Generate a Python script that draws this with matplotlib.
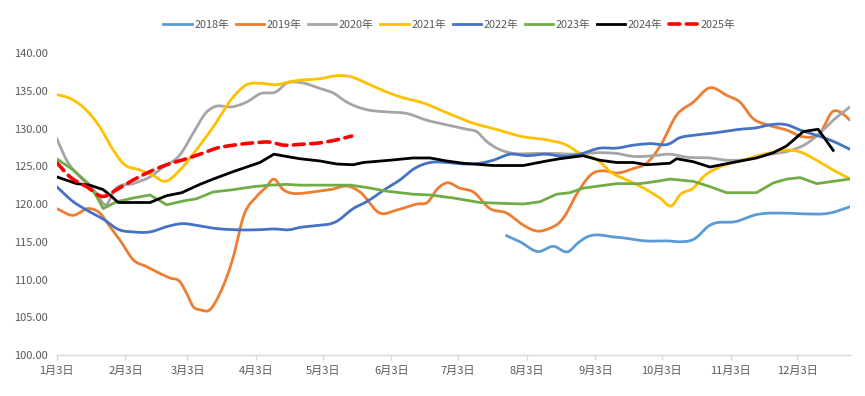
import numpy as np
import matplotlib
matplotlib.use("Agg")
import matplotlib.pyplot as plt

plt.rcParams['font.family'] = ['Noto Sans CJK SC', 'DejaVu Sans']

# x values are days counted from Jan 3
tick_days = [0, 31, 59, 90, 120, 151, 181, 212, 243, 273, 304, 334]
tick_labels = ['1月3日', '2月3日', '3月3日', '4月3日', '5月3日', '6月3日',
               '7月3日', '8月3日', '9月3日', '10月3日', '11月3日', '12月3日']

d2018 = [203, 209, 217.2, 224, 230.8, 235, 238.3, 252.6, 266.1, 276.6, 281.1, 287.2,
         294.7, 306.7, 315.7, 327.8, 336.8, 348.8, 357.5]
v2018 = [115.8, 115.0, 113.7, 114.4, 113.7, 114.8, 115.5, 115.6, 115.1, 115.1, 115.0, 115.3,
         117.2, 117.7, 118.6, 118.8, 118.7, 118.8, 119.6]

d2019 = [0, 7.5, 14.3, 19.5, 24, 28.6, 34.6, 40.6, 46.6, 51.1, 55.6, 58.6, 61.6, 64.6, 69.1,
         73.7, 79.7, 84.2, 90.2, 94.7, 97.7, 102.2, 106.7, 109.7, 115.7, 123.3, 132.3, 136.8,
         145.8, 153.4, 162.4, 167.6, 171.4, 175.9, 181.9, 187.9, 195.4, 203, 210.5, 217.2,
         222.5, 227, 230, 233, 236, 242, 246.5, 252.6, 260.1, 266.1, 272.1, 279.7, 287.2,
         294.7, 302.2, 308.2, 314.2, 320.3, 329.3, 336.8, 344.3, 350.3, 353.3, 357.5]
v2019 = [119.4, 118.5, 119.4, 118.8, 117.0, 115.2, 112.6, 111.7, 110.8, 110.2, 109.7, 108.2,
         106.4, 106.0, 106.0, 108.2, 113.0, 118.3, 121.0, 122.3, 123.3, 121.9, 121.4, 121.4,
         121.6, 121.9, 122.3, 121.6, 118.8, 119.2, 120.0, 120.3, 121.9, 122.8, 122.1, 121.6,
         119.4, 118.8, 117.2, 116.4, 116.8, 117.6, 118.8, 120.5, 122.0, 124.1, 124.4, 124.1,
         124.7, 125.4, 127.6, 131.8, 133.5, 135.4, 134.4, 133.5, 131.3, 130.5, 129.8, 128.9,
         129.4, 132.3, 132.2, 131.2]

d2020 = [0, 4.5, 10.5, 15, 18, 22.2, 26.3, 34.6, 42.1, 48.1, 55.6, 61.6, 67.7, 70.6, 79.7,
         85.7, 91.7, 99.2, 103.7, 109.7, 118.8, 124.8, 130.8, 139.8, 148.9, 157.9, 166.9,
         175.9, 184.9, 189.4, 193.9, 198.5, 206, 215, 224, 233, 245, 252.6, 260.1, 269.1,
         276.6, 284.2, 294.7, 302.2, 311.2, 320.3, 332.3, 338.3, 344.3, 350.3, 357.5]
v2020 = [128.7, 125.8, 123.6, 122.3, 121.4, 119.9, 121.9, 122.7, 123.6, 124.9, 126.5, 129.4,
         132.2, 132.8, 132.9, 133.5, 134.6, 134.9, 136.0, 136.1, 135.3, 134.7, 133.5, 132.5,
         132.2, 132.0, 131.1, 130.5, 129.9, 129.6, 128.3, 127.4, 126.7, 126.7, 126.7, 126.6,
         126.8, 126.7, 126.3, 126.4, 126.6, 126.2, 126.1, 125.8, 125.9, 126.5, 127.2, 128.0,
         129.4, 131.1, 132.8]

d2021 = [0, 6, 13.5, 19.5, 25.4, 29.9, 37.6, 43.4, 48.8, 55.6, 63.1, 70.6, 79.7, 85.7, 91.7,
         99.2, 105.2, 109.7, 118.8, 126.3, 132.3, 139.8, 145.8, 154.9, 165.2, 175.9, 187.9,
         196.9, 210.5, 221, 230, 236, 245, 249.6, 257.1, 266.1, 272.1, 277.6, 281.1, 287.2,
         291.7, 299.2, 309.7, 320.3, 332.3, 335.3, 342.8, 350.3, 357.5]
v2021 = [134.5, 134.0, 132.4, 130.2, 127.2, 125.4, 124.5, 123.8, 123.0, 124.5, 127.2, 130.2,
         134.2, 135.8, 136.0, 135.8, 136.2, 136.4, 136.6, 137.0, 136.9, 136.0, 135.2, 134.2,
         133.4, 132.1, 130.7, 130.0, 128.9, 128.5, 127.8, 126.7, 125.6, 124.3, 123.2, 121.9,
         120.8, 119.8, 121.2, 122.1, 123.6, 124.9, 125.8, 126.7, 127.1, 126.9, 125.8, 124.5,
         123.4]

d2022 = [0, 7.5, 13.5, 21, 28.1, 34.6, 42.1, 49.6, 56.4, 64.6, 70.6, 79.7, 91.7, 97.7, 105.2,
         109.7, 115.7, 126.3, 133.8, 139.8, 148.9, 154.9, 160.8, 168.4, 175.9, 183.4, 190.9,
         196.9, 204.5, 212, 221, 228.5, 236, 245, 252.6, 260.1, 267.6, 276.6, 280.4, 287.2,
         296.2, 308.2, 315.7, 321.8, 329.3, 335.3, 342.8, 350.3, 357.5]
v2022 = [122.3, 120.3, 119.2, 118.0, 116.6, 116.3, 116.3, 117.0, 117.4, 117.1, 116.8, 116.6,
         116.6, 116.7, 116.6, 116.9, 117.1, 117.7, 119.4, 120.3, 122.1, 123.2, 124.6, 125.5,
         125.5, 125.3, 125.4, 125.8, 126.6, 126.4, 126.6, 126.3, 126.6, 127.4, 127.4, 127.8,
         128.0, 128.0, 128.7, 129.1, 129.4, 129.9, 130.1, 130.5, 130.5, 129.8, 129.1, 128.3,
         127.3]

d2023 = [0, 7.5, 14.3, 18, 21, 27, 34.6, 42.1, 49.6, 57.1, 63.1, 70.6, 79.7, 88.7, 96.2,
         103.7, 109.7, 115.7, 132.3, 139.8, 148.9, 160.8, 168.4, 178.9, 190.9, 200, 210.5,
         218, 225.5, 231.5, 237.5, 245, 252.6, 263.1, 270.6, 276.6, 287.2, 294.7, 302.2,
         315.7, 323.3, 329.3, 335.3, 342.8, 357.5]
v2023 = [126.0, 124.5, 122.7, 121.0, 119.4, 120.3, 120.8, 121.2, 119.9, 120.4, 120.7, 121.6,
         121.9, 122.3, 122.5, 122.6, 122.5, 122.5, 122.5, 122.2, 121.7, 121.3, 121.2, 120.8,
         120.2, 120.1, 120.0, 120.3, 121.3, 121.5, 122.1, 122.4, 122.7, 122.7, 123.0, 123.3,
         123.0, 122.3, 121.5, 121.5, 122.8, 123.3, 123.5, 122.7, 123.3]

d2024 = [0, 9, 15, 21, 24, 27.8, 42.1, 49.6, 56.4, 64.6, 70.6, 79.7, 85.7, 91.7, 98, 103.7,
         109.7, 118.8, 126.3, 133.8, 138.3, 150.3, 160.8, 168.4, 175.9, 183.4, 196.9, 210.5,
         221, 227, 237.5, 245, 252.6, 260.1, 266.1, 276.6, 279.7, 287.2, 294.7, 306.7, 315.7,
         323.3, 329.3, 336.8, 343.5, 350.3]
v2024 = [123.6, 122.7, 122.5, 121.9, 121.2, 120.2, 120.2, 121.1, 121.5, 122.6, 123.3, 124.3,
         124.9, 125.5, 126.6, 126.3, 126.0, 125.7, 125.3, 125.2, 125.5, 125.8, 126.1, 126.1,
         125.7, 125.4, 125.1, 125.1, 125.7, 126.0, 126.4, 125.8, 125.5, 125.5, 125.2, 125.4,
         126.0, 125.6, 124.9, 125.6, 126.1, 126.8, 127.7, 129.6, 129.9, 127.1]

d2025 = [0, 6, 13.5, 21, 27, 34.6, 42.1, 49.6, 58.6, 64.6, 72.2, 79.7, 88.7, 96.2, 102.2,
         109.7, 118.8, 126.3, 133.1]
v2025 = [125.5, 123.6, 122.3, 121.0, 121.9, 123.2, 124.3, 125.2, 126.0, 126.6, 127.4, 127.8,
         128.1, 128.2, 127.8, 127.9, 128.1, 128.5, 129.0]


def smooth(x, y, n=10):
    """
    cubic hermite through the points, like excel's smoothed line
    :param x: x values (increasing)
    :param y: y values
    :param n: sub-steps per segment
    :return: dense x, y
    """
    x = np.asarray(x, float)
    y = np.asarray(y, float)
    m = np.gradient(y, x)
    xs, ys = [], []
    for i in range(len(x) - 1):
        h = x[i + 1] - x[i]
        t = np.linspace(0, 1, n, endpoint=False)
        h00 = 2 * t**3 - 3 * t**2 + 1
        h10 = t**3 - 2 * t**2 + t
        h01 = -2 * t**3 + 3 * t**2
        h11 = t**3 - t**2
        xs.append(x[i] + t * h)
        ys.append(h00 * y[i] + h10 * h * m[i] + h01 * y[i + 1] + h11 * h * m[i + 1])
    xs.append([x[-1]])
    ys.append([y[-1]])
    return np.concatenate(xs), np.concatenate(ys)


series = [
    ('2018年', d2018, v2018, '#5B9BD5', '-', True),
    ('2019年', d2019, v2019, '#ED7D31', '-', True),
    ('2020年', d2020, v2020, '#A5A5A5', '-', True),
    ('2021年', d2021, v2021, '#FFC000', '-', True),
    ('2022年', d2022, v2022, '#4472C4', '-', True),
    ('2023年', d2023, v2023, '#70AD47', '-', False),
    ('2024年', d2024, v2024, '#000000', '-', False),
    ('2025年', d2025, v2025, '#FF0000', '--', True),
]

fig = plt.figure(figsize=(8.65, 3.96), dpi=100)
ax = fig.add_axes([0.0655, 0.1035, 0.917, 0.7626])

for name, xd, yd, color, ls, sm in series:
    if sm:
        xs, ys = smooth(xd, yd)
    else:
        xs, ys = np.asarray(xd), np.asarray(yd)
    if ls == '--':
        ax.plot(xs, ys, color=color, lw=2.6, ls=(0, (3, 1.8)), label=name,
                solid_capstyle='round', dash_capstyle='round')
    else:
        ax.plot(xs, ys, color=color, lw=2.0, label=name, solid_joinstyle='round')

ax.set_xlim(0, 357.8)
ax.set_ylim(100, 140)
ax.set_yticks(np.arange(100, 141, 5))
ax.set_yticklabels(['%.2f' % v for v in np.arange(100, 141, 5)])
ax.set_xticks(tick_days)
ax.set_xticklabels(tick_labels)

for s in ['top', 'right', 'left']:
    ax.spines[s].set_visible(False)
ax.spines['bottom'].set_color('#D9D9D9')
ax.spines['bottom'].set_linewidth(1.0)
ax.tick_params(axis='y', length=0, pad=6.5, labelsize=8, labelcolor='#595959')
ax.tick_params(axis='x', length=3.5, width=1.0, color='#D9D9D9', pad=4,
               labelsize=8, labelcolor='#595959')

ax.legend(loc='center', bbox_to_anchor=(0.495, 1.093), ncol=8, frameon=False,
          fontsize=7.8, handlelength=2.6, handletextpad=0.25, columnspacing=0.6,
          labelcolor='#595959')

fig.savefig('out.png', dpi=100)
